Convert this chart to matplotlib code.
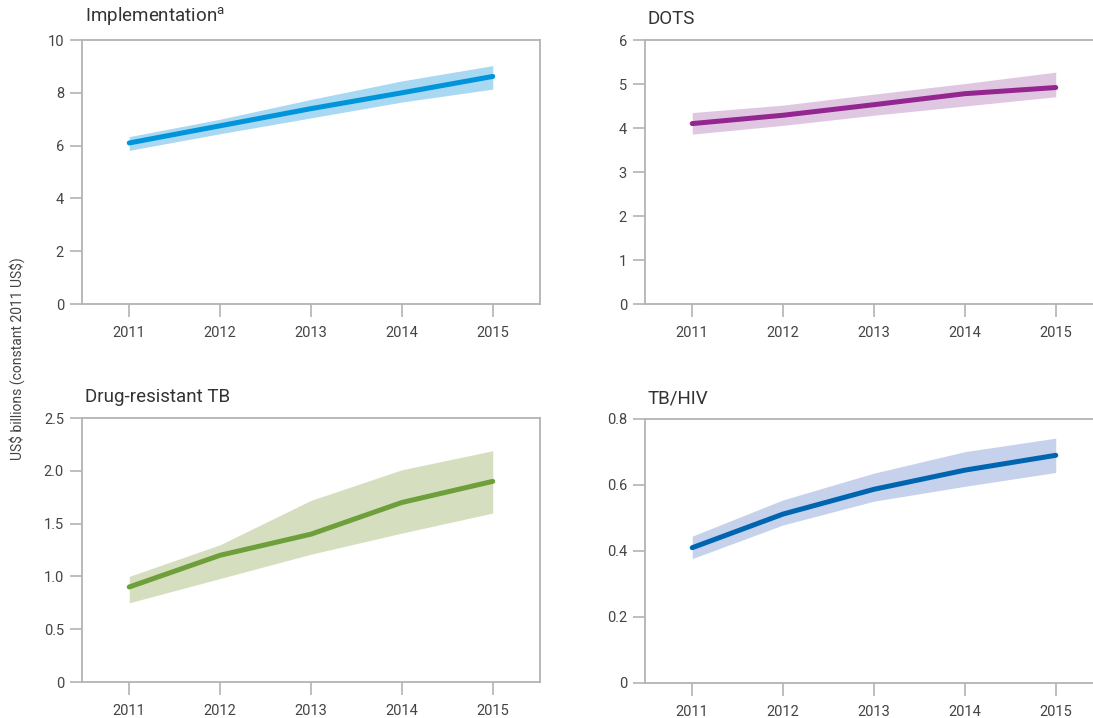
import matplotlib
matplotlib.use('Agg')
import matplotlib.pyplot as plt

plt.rcParams['font.family'] = ['Roboto', 'DejaVu Sans']

years = [2011, 2012, 2013, 2014, 2015]

impl_mid = [6.1, 6.75, 7.4, 8.0, 8.62]
impl_low = [5.82, 6.45, 7.05, 7.65, 8.14]
impl_high = [6.34, 7.0, 7.75, 8.45, 9.03]

dots_mid = [4.1, 4.29, 4.53, 4.78, 4.92]
dots_low = [3.86, 4.06, 4.29, 4.5, 4.71]
dots_high = [4.35, 4.52, 4.77, 5.01, 5.27]

mdr_mid = [0.9, 1.2, 1.4, 1.7, 1.9]
mdr_low = [0.75, 0.98, 1.21, 1.41, 1.6]
mdr_high = [1.0, 1.3, 1.72, 2.01, 2.19]

hiv_mid = [0.41, 0.512, 0.587, 0.645, 0.69]
hiv_low = [0.377, 0.479, 0.551, 0.596, 0.638]
hiv_high = [0.445, 0.555, 0.636, 0.701, 0.742]

panels = [
    ('Implementation$^{\\mathregular{a}}$', impl_mid, impl_low, impl_high, '#0094da', '#a8d8f2',
     [0, 2, 4, 6, 8, 10], ['0', '2', '4', '6', '8', '10']),
    ('DOTS', dots_mid, dots_low, dots_high, '#93268f', '#dfc7e2',
     [0, 1, 2, 3, 4, 5, 6], ['0', '1', '2', '3', '4', '5', '6']),
    ('Drug-resistant TB', mdr_mid, mdr_low, mdr_high, '#6f9f3b', '#d5dfc0',
     [0, 0.5, 1.0, 1.5, 2.0, 2.5], ['0', '0.5', '1.0', '1.5', '2.0', '2.5']),
    ('TB/HIV', hiv_mid, hiv_low, hiv_high, '#0065b1', '#c6d1eb',
     [0, 0.2, 0.4, 0.6, 0.8], ['0', '0.2', '0.4', '0.6', '0.8']),
]

W, H = 1093, 718
# axes boxes in pixels: left, top, right, bottom
boxes = [(82, 40, 540, 304), (645, 40, 1103, 304),
         (82, 418, 540, 682), (645, 419, 1103, 683)]

fig = plt.figure(figsize=(W / 100, H / 100), dpi=100)
grey = '#b3b3b3'
txt = '#444444'

for i, ((title, mid, low, high, lc, fc, yt, ytl), (l, t, r, b)) in enumerate(zip(panels, boxes)):
    ax = fig.add_axes([l / W, 1 - b / H, (r - l) / W, (b - t) / H])
    ax.fill_between(years, low, high, color=fc, lw=0)
    ax.plot(years, mid, color=lc, lw=3.6, solid_capstyle='round')
    ax.set_xlim(2010.48, 2015.52)
    ax.set_ylim(yt[0], yt[-1])
    ax.set_xticks(years)
    ax.set_xticklabels([str(y) for y in years])
    ax.set_yticks(yt)
    ax.set_yticklabels(ytl)
    for s in ax.spines.values():
        s.set_color(grey)
        s.set_linewidth(1.3)
    if i % 2 == 1:
        ax.spines['right'].set_visible(False)
    ax.tick_params(color=grey, length=9, width=1.2, labelsize=10.5, pad=4)
    ax.tick_params(axis='x', pad=7)
    for lab in ax.get_xticklabels() + ax.get_yticklabels():
        lab.set_color(txt)
    ax.text(0.006, 1.045, title, transform=ax.transAxes, fontsize=13.5,
            color='#333333', ha='left', va='bottom')

fig.text(17 / W, 0.5, 'US\\$ billions (constant 2011 US\\$)', rotation=90,
         ha='center', va='center', fontsize=10, color=txt)

fig.savefig('out.png', dpi=100)
